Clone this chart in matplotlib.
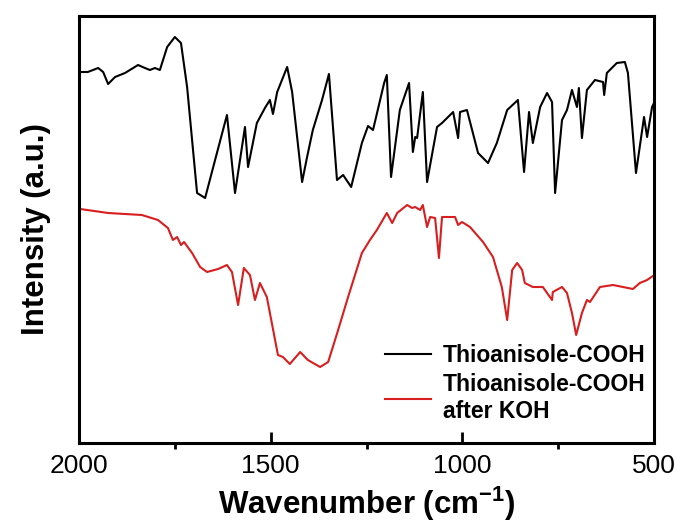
#!/usr/bin/env python3
"""FTIR spectra of Thioanisole-COOH before and after KOH treatment."""

import matplotlib
matplotlib.use("Agg")
import matplotlib.pyplot as plt
from matplotlib.ticker import MultipleLocator

plt.rcParams['font.family'] = ['Liberation Sans', 'DejaVu Sans']

# Thioanisole-COOH (black), values
wn_acid = [1993, 1977, 1950, 1937, 1924, 1906, 1880, 1846, 1828, 1815, 1802, 1789,
           1770, 1750, 1734, 1718, 1692, 1671, 1645, 1614, 1593, 1567, 1559, 1536,
           1515, 1502, 1494, 1483, 1457, 1444, 1418, 1405, 1390, 1366, 1348, 1327,
           1311, 1290, 1262, 1246, 1233, 1204, 1197, 1186, 1163, 1139, 1129, 1123,
           1118, 1103, 1092, 1066, 1053, 1024, 1011, 1006, 988, 959, 933, 910,
           883, 855, 839, 826, 816, 797, 779, 766, 758, 740, 727, 714,
           701, 696, 688, 675, 654, 633, 630, 623, 597, 576, 568, 547,
           526, 518, 505, 500]
int_acid = [371, 371, 375, 371, 359, 366, 370, 378, 375, 373, 375, 373,
            396, 406, 400, 356, 250, 245, 283, 328, 250, 316, 276, 320,
            335, 343, 329, 351, 376, 351, 261, 286, 313, 343, 369, 263,
            268, 256, 300, 317, 313, 360, 368, 266, 333, 360, 291, 306,
            305, 351, 261, 316, 320, 331, 305, 331, 333, 290, 280, 300,
            333, 343, 271, 331, 300, 336, 350, 341, 250, 323, 333, 353,
            336, 355, 305, 353, 363, 361, 348, 370, 380, 381, 370, 270,
            326, 306, 336, 340]

# Thioanisole-COOH after KOH (red)
wn_koh = [1997, 1924, 1836, 1794, 1768, 1755, 1744, 1734, 1726, 1705, 1684, 1666,
          1637, 1614, 1601, 1585, 1570, 1554, 1541, 1528, 1510, 1497, 1481, 1468,
          1450, 1423, 1403, 1371, 1350, 1324, 1298, 1262, 1241, 1223, 1197, 1183,
          1170, 1144, 1131, 1123, 1110, 1103, 1092, 1084, 1071, 1061, 1053, 1019,
          1011, 1001, 980, 946, 920, 897, 883, 870, 857, 844, 837, 816,
          790, 766, 764, 740, 727, 714, 703, 688, 675, 667, 641, 607,
          555, 537, 518, 503]
int_koh = [234, 230, 228, 223, 215, 203, 206, 198, 201, 190, 176, 171,
           174, 178, 171, 138, 175, 168, 143, 160, 146, 120, 88, 86,
           79, 91, 83, 76, 81, 113, 146, 190, 203, 213, 230, 220,
           230, 238, 235, 236, 233, 238, 216, 226, 225, 185, 226, 226,
           218, 221, 216, 201, 186, 156, 123, 173, 180, 173, 160, 156,
           156, 143, 151, 156, 150, 130, 108, 130, 143, 141, 156, 158,
           154, 160, 163, 167]

labels = ['Thioanisole-COOH', 'Thioanisole-COOH\nafter KOH']

fig = plt.figure(figsize=(6.8, 5.29), dpi=100)
ax = fig.add_axes([79 / 680, 1 - 443 / 529, 575 / 680, 427 / 529])

ax.plot(wn_acid, int_acid, color='black', lw=1.5, label=labels[0])
ax.plot(wn_koh, int_koh, color='#d81e1e', lw=1.5, label=labels[1])

ax.set_xlim(2000, 500)
ax.set_ylim(0, 427)
ax.set_yticks([])
ax.xaxis.set_major_locator(MultipleLocator(500))
ax.xaxis.set_minor_locator(MultipleLocator(250))
ax.tick_params(axis='x', which='major', direction='in', length=8, width=2,
               labelsize=19, pad=8)
ax.tick_params(axis='x', which='minor', direction='out', length=4, width=2)
for s in ax.spines.values():
    s.set_linewidth(2.2)

ax.set_xlabel('Wavenumber (cm$^{\\mathregular{-1}}$)', fontsize=22.5,
              fontweight='bold', labelpad=5)
ax.set_ylabel('Intensity (a.u.)', fontsize=22.5, fontweight='bold', labelpad=20)

ax.legend(loc='lower right', frameon=False, handlelength=2.0,
          handletextpad=0.5, prop={'weight': 'bold', 'size': 16.5},
          borderaxespad=0.1, labelspacing=0.3, bbox_to_anchor=(1.005, 0.02))

fig.savefig('out.png', dpi=100)
